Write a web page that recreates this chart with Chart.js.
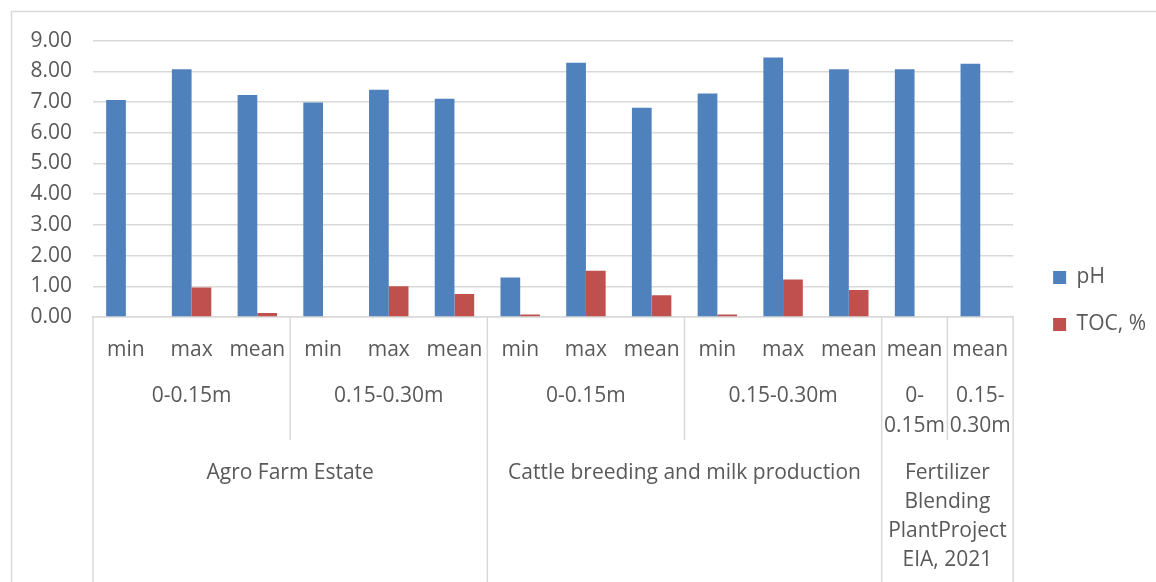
<!DOCTYPE html>
<html>
<head>
<meta charset="utf-8">
<script src="https://cdn.jsdelivr.net/npm/chart.js@4.4.1/dist/chart.umd.min.js"></script>
<style>
  html, body { margin: 0; padding: 0; background: #ffffff; }
  #wrap { position: relative; width: 1156px; height: 582px; }
</style>
</head>
<body>
<div id="wrap"><canvas id="chart"></canvas></div>
<script>
// Soil pH and total organic carbon by site, sampling depth and statistic
const statLabels = ['min', 'max', 'mean', 'min', 'max', 'mean', 'min', 'max', 'mean', 'min', 'max', 'mean', 'mean', 'mean'];
const depthLabels = ['0-0.15m', '0.15-0.30m', '0-0.15m', '0.15-0.30m', '0-0.15m', '0.15-0.30m'];
const depthSpans = [3, 3, 3, 3, 1, 1];
const siteLabels = ['Agro Farm Estate', 'Cattle breeding and milk production', 'Fertilizer Blending PlantProject EIA, 2021'];
const siteSpans = [6, 6, 2];
const phValues = [7.07, 8.07, 7.23, 6.99, 7.40, 7.11, 1.29, 8.28, 6.82, 7.28, 8.45, 8.07, 8.07, 8.25];
const tocValues = [null, 0.96, 0.13, null, 1.00, 0.75, 0.08, 1.51, 0.71, 0.08, 1.22, 0.88, null, null];
const yTicks = [0, 1, 2, 3, 4, 5, 6, 7, 8, 9];

const FONT = '"Open Sans", "Liberation Sans", sans-serif';
const TEXT = '#595959';
const LINE = '#D9D9D9';

// Split a label into lines that fit a width, breaking after spaces or hyphens
function wrapText(ctx, text, maxW) {
  const tokens = text.match(/[^\s-]+-?|\s+/g) || [text];
  const lines = [];
  let cur = '';
  tokens.forEach(tok => {
    const trial = cur + tok;
    if (cur.trim() && ctx.measureText(trial.trimEnd()).width > maxW) {
      lines.push(cur.trim());
      cur = tok.trimStart();
    } else {
      cur = trial;
    }
  });
  if (cur.trim()) lines.push(cur.trim());
  return lines;
}

// Light frame around the whole chart
const framePlugin = {
  id: 'frame',
  beforeDraw(chart) {
    const ctx = chart.ctx;
    ctx.save();
    ctx.strokeStyle = LINE;
    ctx.lineWidth = 1.5;
    ctx.beginPath();
    ctx.moveTo(11.5, chart.height + 5);
    ctx.lineTo(11.5, 11.5);
    ctx.lineTo(chart.width + 5, 11.5);
    ctx.stroke();
    ctx.restore();
  }
};

// Three-level category axis: statistic, depth, site
const groupAxisPlugin = {
  id: 'groupAxis',
  afterDraw(chart) {
    const x = chart.scales.x;
    const ctx = chart.ctx;
    const catW = x.getPixelForValue(1) - x.getPixelForValue(0);
    const edge = i => x.getPixelForValue(0) - catW / 2 + i * catW;
    const top = chart.chartArea.bottom;

    ctx.save();
    ctx.font = '21px ' + FONT;
    ctx.fillStyle = TEXT;
    ctx.textAlign = 'center';
    ctx.textBaseline = 'middle';

    // statistic row
    statLabels.forEach((s, i) => ctx.fillText(s, x.getPixelForValue(i), top + 33));

    // depth row
    let start = 0;
    const depthEdges = [];
    depthLabels.forEach((d, g) => {
      const span = depthSpans[g];
      const cx = (edge(start) + edge(start + span)) / 2;
      const lines = wrapText(ctx, d, span * catW - 4);
      lines.forEach((ln, k) => ctx.fillText(ln, cx, top + 79 + k * 30));
      start += span;
      depthEdges.push(start);
    });

    // site row
    start = 0;
    const siteEdges = [0];
    siteLabels.forEach((s, g) => {
      const span = siteSpans[g];
      const cx = (edge(start) + edge(start + span)) / 2;
      const lines = wrapText(ctx, s, span * catW - 4);
      lines.forEach((ln, k) => ctx.fillText(ln, cx, top + 156 + k * 29));
      start += span;
      siteEdges.push(start);
    });

    // separators
    ctx.strokeStyle = LINE;
    ctx.lineWidth = 1.5;
    ctx.beginPath();
    siteEdges.forEach(i => {
      ctx.moveTo(edge(i), top);
      ctx.lineTo(edge(i), chart.height + 5);
    });
    depthEdges.forEach(i => {
      if (siteEdges.includes(i)) return;
      ctx.moveTo(edge(i), top);
      ctx.lineTo(edge(i), top + 123);
    });
    ctx.stroke();
    ctx.restore();
  }
};

Chart.defaults.font.family = FONT;
Chart.defaults.color = TEXT;

new Chart(document.getElementById('chart'), {
  type: 'bar',
  data: {
    labels: statLabels,
    datasets: [
      { label: 'pH', data: phValues, backgroundColor: '#4F81BD', categoryPercentage: 0.6, barPercentage: 1.0 },
      { label: 'TOC, %', data: tocValues, backgroundColor: '#C0504D', categoryPercentage: 0.6, barPercentage: 1.0 }
    ]
  },
  options: {
    responsive: true,
    maintainAspectRatio: false,
    animation: false,
    layout: { padding: { top: 40.7, right: 0, bottom: 20.7, left: 0 } },
    plugins: {
      tooltip: { enabled: false },
      legend: {
        position: 'right',
        labels: {
          boxWidth: 13,
          boxHeight: 13,
          padding: 26,
          color: TEXT,
          font: { size: 21, family: FONT }
        }
      }
    },
    scales: {
      x: {
        grid: { display: false },
        border: { display: true, color: LINE, width: 1.5 },
        ticks: { display: false },
        afterFit(scale) { scale.height = 244.3; }
      },
      y: {
        min: 0,
        max: 9,
        afterBuildTicks(scale) { scale.ticks = yTicks.map(v => ({ value: v })); },
        afterFit(scale) { scale.width = 93; },
        grid: { color: LINE, lineWidth: 1.5, drawTicks: false },
        border: { display: false },
        ticks: {
          padding: 21,
          color: TEXT,
          font: { size: 21, family: FONT },
          callback: v => Number(v).toFixed(2)
        }
      },
      // empty right-hand axis that keeps a gap between the plot and the legend
      gap: {
        type: 'linear',
        position: 'right',
        grid: { display: false },
        border: { display: false },
        ticks: { display: false },
        afterFit(scale) { scale.width = 14; }
      }
    }
  },
  plugins: [framePlugin, groupAxisPlugin]
});
</script>
</body>
</html>
